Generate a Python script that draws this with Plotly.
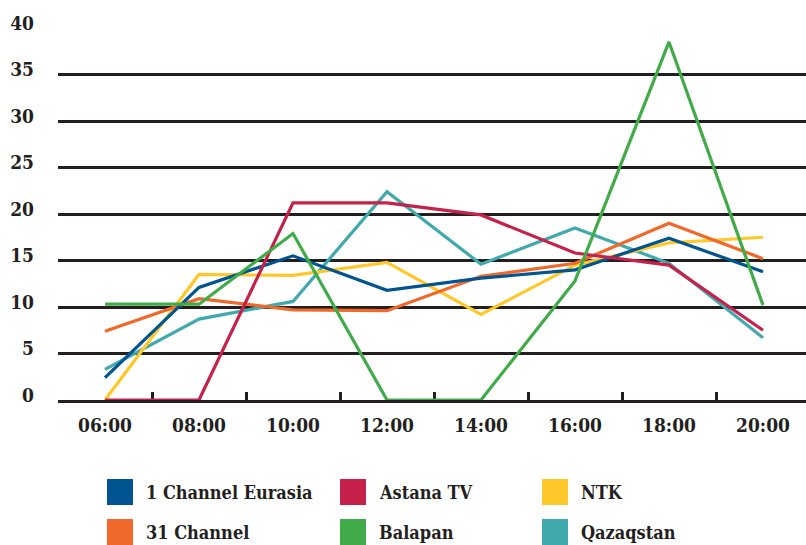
import plotly.graph_objects as go

# Hourly audience share by channel
hours = ["06:00", "08:00", "10:00", "12:00", "14:00", "16:00", "18:00", "20:00"]

eurasia = [2.4, 12.1, 15.5, 11.8, 13.1, 14.0, 17.4, 13.8]
astana = [0, 0, 21.2, 21.2, 19.9, 15.8, 14.5, 7.5]
ntk = [0, 13.5, 13.4, 14.8, 9.2, 14.5, 16.9, 17.5]
channel31 = [7.4, 10.9, 9.7, 9.6, 13.3, 14.7, 19.0, 15.2]
balapan = [10.3, 10.3, 17.9, 0, 0, 12.8, 38.5, 10.2]
qazaqstan = [3.3, 8.7, 10.6, 22.4, 14.6, 18.5, 14.7, 6.7]

y_ticks = [0, 5, 10, 15, 20, 25, 30, 35, 40]

# (name, values, colour) in legend order
series = [
    ("1 Channel Eurasia", eurasia, "#00548f"),
    ("Astana TV", astana, "#c5214b"),
    ("NTK", ntk, "#fec82a"),
    ("31 Channel", channel31, "#f0692b"),
    ("Balapan", balapan, "#41ab4a"),
    ("Qazaqstan", qazaqstan, "#40a9ae"),
]

# drawing order (later traces sit on top)
draw_order = ["Qazaqstan", "NTK", "31 Channel", "1 Channel Eurasia", "Astana TV", "Balapan"]

INK = "#231f20"
FONT = "DejaVu Serif Condensed, DejaVu Serif"

W, H = 806, 545
ML, MR, MT, MB = 58, 0, 28, 145
PW, PH = W - ML - MR, H - MT - MB

fig = go.Figure()
lookup = {name: (vals, col) for name, vals, col in series}
for name in draw_order:
    vals, col = lookup[name]
    fig.add_trace(go.Scatter(
        x=hours, y=vals, name=name, mode="lines",
        line=dict(color=col, width=3.2),
        showlegend=False,
    ))


def px_x(x):
    return (x - ML) / PW


def px_y(y):
    return (H - MB - y) / PH


# Legend laid out as a 3 x 2 grid of colour squares with labels
col_left = [107, 340, 542]
row_top = [479, 519]
sq = 26
shapes = []
annotations = []
for i, (name, _, col) in enumerate(series):
    r, c = divmod(i, 3)
    x0, y0 = col_left[c], row_top[r]
    shapes.append(dict(
        type="rect", xref="paper", yref="paper",
        x0=px_x(x0), x1=px_x(x0 + sq), y0=px_y(y0), y1=px_y(y0 + sq),
        fillcolor=col, line=dict(width=0), layer="above",
    ))
    annotations.append(dict(
        xref="paper", yref="paper", x=px_x(x0 + 37), y=px_y(y0 + sq / 2),
        xanchor="left", yanchor="middle", text=name, showarrow=False,
        font=dict(family=FONT, size=18, color=INK, weight="bold"),
    ))

fig.update_layout(
    width=W, height=H, autosize=False,
    margin=dict(l=ML, r=MR, t=MT, b=MB),
    paper_bgcolor="white", plot_bgcolor="white",
    shapes=shapes, annotations=annotations,
    showlegend=False,
    font=dict(family=FONT, color=INK),
)

fig.update_xaxes(
    type="category", range=[-0.5, -0.5 + PW / 94.0],
    showgrid=False, zeroline=False,
    showline=True, linecolor=INK, linewidth=3,
    ticks="inside", tickson="boundaries", ticklen=8, tickwidth=2.5, tickcolor=INK,
    tickfont=dict(family=FONT, size=19, color=INK, weight="bold"),
    ticklabelstandoff=6,
    layer="below traces",
)

fig.update_yaxes(
    range=[0, 40], tickvals=y_ticks,
    showgrid=True, gridcolor=INK, gridwidth=2.5,
    zeroline=False, showline=False, ticks="",
    tickfont=dict(family=FONT, size=19, color=INK, weight="bold"),
    ticklabelstandoff=23, ticklabelshift=-5,
)

fig.write_html("out.html")
